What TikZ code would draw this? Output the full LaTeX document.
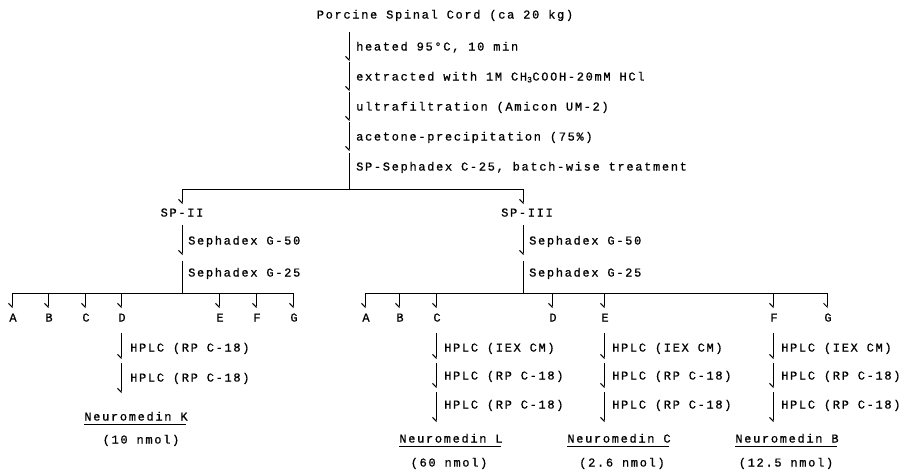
\documentclass[tikz,border=0pt]{standalone}
\usepackage{fontspec}
\usetikzlibrary{arrows.meta}
\newfontfamily\tw[LetterSpace=14,FakeBold=0.8]{Liberation Mono}
\begin{document}
\begin{tikzpicture}[x=1pt,y=-1pt,
  font={\tw\fontsize{12}{14}\selectfont},
  lbl/.style={anchor=west, inner sep=0pt, text height=7pt, text depth=2pt},
  ctr/.style={inner sep=0pt, text height=7pt, text depth=2pt},
  ul/.style={ctr, text depth=4pt},
  ln/.style={line width=1pt},
  arr/.style={ln, -{Straight Barb[right,length=3.5pt,width=7pt]}}]
\useasboundingbox (0,0) rectangle (908,475);
\fill[white] (0,0) rectangle (908,475);

% main trunk
\node[ctr] (title) at (445,16) {Porcine Spinal Cord (ca 20 kg)};
\foreach \i/\r in {1/48,2/78,3/108,4/138} {
  \coordinate (ma\i) at (349,\r-16);
  \coordinate (mb\i) at (349,\r+13);
  \draw[arr] (ma\i) -- (mb\i);
}
\node[lbl] (s1) at (356,48) {heated 95°C, 10 min};
\node[lbl] (s2) at (356,78) {extracted with 1M CH\textsubscript{3}COOH-20mM HCl};
\node[lbl] (s3) at (356,108) {ultrafiltration (Amicon UM-2)};
\node[lbl] (s4) at (356,138) {acetone-precipitation (75\%)};
\node[lbl] (s5) at (356,168) {SP-Sephadex C-25, batch-wise treatment};
\coordinate (ma5) at (349,153);
\coordinate (j0) at (349,189);
\draw[ln] (ma5) -- (j0);

% split into SP-II / SP-III
\coordinate (jl) at (182,189);
\coordinate (jr) at (523,189);
\coordinate (jle) at (182,204);
\coordinate (jre) at (523,204);
\draw[ln] (jl) -- (jr);
\draw[arr] (jl) -- (jle);
\draw[arr] (jr) -- (jre);
\node[ctr] (sp2) at (182,214) {SP-II};
\node[ctr] (sp3) at (527,214) {SP-III};

% SP-II column
\coordinate (la1) at (182,225);
\coordinate (lb1) at (182,255);
\coordinate (la2) at (182,261);
\coordinate (lb2) at (182,293);
\draw[arr] (la1) -- (lb1);
\draw[ln] (la2) -- (lb2);
\node[lbl] (lg50) at (188,242) {Sephadex G-50};
\node[lbl] (lg25) at (188,274) {Sephadex G-25};

% SP-III column
\coordinate (ra1) at (523,225);
\coordinate (rb1) at (523,255);
\coordinate (ra2) at (523,261);
\coordinate (rb2) at (523,293);
\draw[arr] (ra1) -- (rb1);
\draw[ln] (ra2) -- (rb2);
\node[lbl] (rg50) at (529,242) {Sephadex G-50};
\node[lbl] (rg25) at (529,274) {Sephadex G-25};

% left fractions
\coordinate (hl0) at (12,293);
\coordinate (hl1) at (293,293);
\draw[ln] (hl0) -- (hl1);
\foreach \n/\x in {A/12,B/48,C/85,D/121,E/219,F/256,G/293} {
  \coordinate (ld\n) at (\x,293);
  \coordinate (le\n) at (\x,308);
  \draw[arr] (ld\n) -- (le\n);
  \node[ctr] (lf\n) at (\x+1,319) {\n};
}

% right fractions
\coordinate (hr0) at (365,293);
\coordinate (hr1) at (827,293);
\draw[ln] (hr0) -- (hr1);
\foreach \n/\x in {A/365,B/399,C/436,D/552,E/604,F/773,G/827} {
  \coordinate (rd\n) at (\x,293);
  \coordinate (re\n) at (\x,308);
  \draw[arr] (rd\n) -- (re\n);
  \node[ctr] (rf\n) at (\x+1,319) {\n};
}

% left D column
\coordinate (kd1) at (121,333);
\coordinate (ke1) at (121,359);
\coordinate (kd2) at (121,363);
\coordinate (ke2) at (121,393);
\draw[arr] (kd1) -- (ke1);
\draw[arr] (kd2) -- (ke2);
\node[lbl] (kh1) at (130,349) {HPLC (RP C-18)};
\node[lbl] (kh2) at (130,379) {HPLC (RP C-18)};
\node[ul] (nk) at (136,419) {Neuromedin K};
\draw[ln] (nk.south west) -- ([xshift=-2pt]nk.south east);
\node[ctr] (nkq) at (141,441) {(10 nmol)};

% right columns C, E, F
\foreach \c/\x in {C/436,E/604,F/773} {
  \coordinate (p\c1) at (\x,333);
  \coordinate (q\c1) at (\x,359);
  \coordinate (p\c2) at (\x,363);
  \coordinate (q\c2) at (\x,388);
  \coordinate (p\c3) at (\x,392);
  \coordinate (q\c3) at (\x,422);
  \draw[arr] (p\c1) -- (q\c1);
  \draw[arr] (p\c2) -- (q\c2);
  \draw[arr] (p\c3) -- (q\c3);
  \node[lbl] (h\c1) at (\x+8,349) {HPLC (IEX CM)};
  \node[lbl] (h\c2) at (\x+8,377) {HPLC (RP C-18)};
  \node[lbl] (h\c3) at (\x+8,406) {HPLC (RP C-18)};
}
\node[ul] (nl) at (451,441) {Neuromedin L};
\node[ul] (nc) at (619,441) {Neuromedin C};
\node[ul] (nb) at (787,441) {Neuromedin B};
\foreach \m in {nl,nc,nb} {
  \draw[ln] (\m.south west) -- ([xshift=-2pt]\m.south east);
}
\node[ctr] (nlq) at (449,464) {(60 nmol)};
\node[ctr] (ncq) at (622,464) {(2.6 nmol)};
\node[ctr] (nbq) at (786,464) {(12.5 nmol)};
\end{tikzpicture}
\end{document}
